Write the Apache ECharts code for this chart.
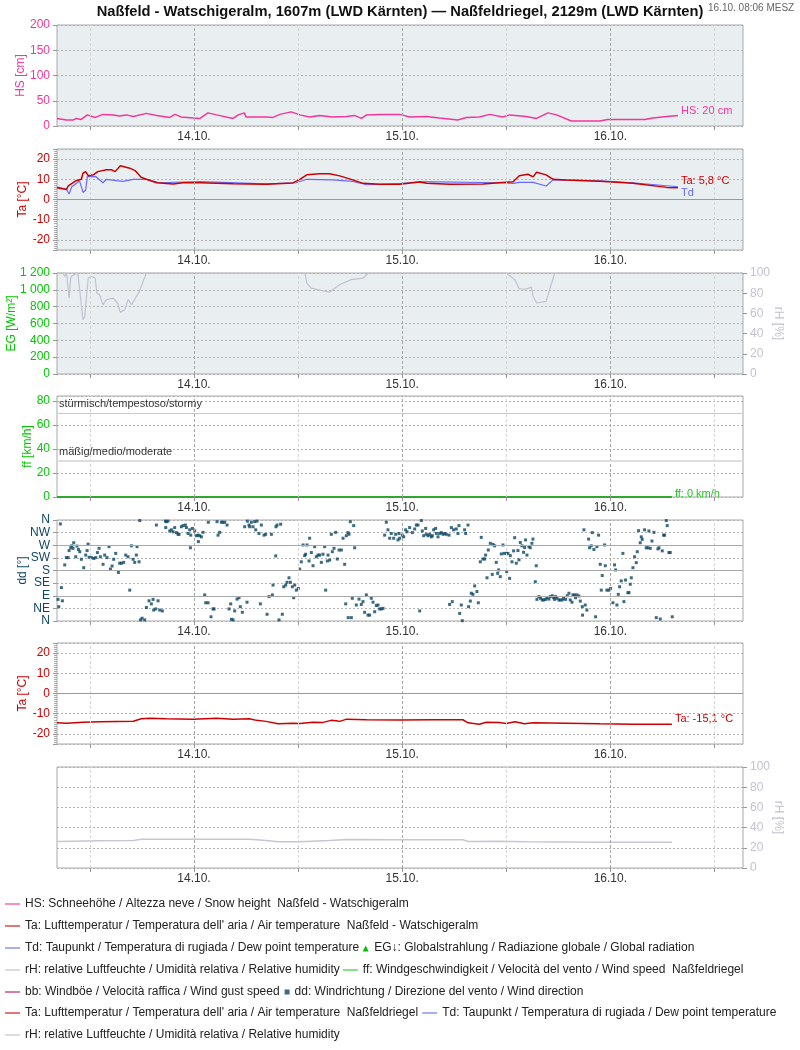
<!DOCTYPE html>
<html><head><meta charset="utf-8">
<script src="https://cdn.jsdelivr.net/npm/echarts@6/dist/echarts.min.js"></script>
<style>html,body{margin:0;padding:0;background:#fff}#c{width:800px;height:1050px}</style>
</head><body><div id="c"></div>
<script>
// ---- time axis (hours relative to 14.10. 00:00) ----
const xMin = -15.8, xMax = 63.3;
const dayTicks = [0, 24, 48];
const dayLabels = ['14.10.', '15.10.', '16.10.'];
const noonTicks = [-12, 12, 36, 60];
const ddLabels = ['N', 'NE', 'E', 'SE', 'S', 'SW', 'W', 'NW', 'N'];

// ---- HS snow height (cm) ----
const hsT = [-15.8,-14.7,-13.9,-13.6,-13.0,-12.3,-11.4,-10.5,-9.3,-8.6,-7.8,-7.0,-5.5,-4.3,-2.8,-2.2,-1.5,-0.1,0.7,1.6,2.6,4.5,5.1,5.8,6.0,7.2,8.3,9.1,9.9,11.2,12.2,13.3,14.5,16.0,17.6,18.5,19.3,19.9,21.4,23.7,24.9,26.8,28.3,30.4,31.4,32.9,34.1,35.6,36.4,38.3,39.5,40.8,41.8,43.5,45.2,46.8,47.7,49.8,52.0,52.9,54.5,55.8];
const hsV = [15,12,12,15,13,22,17,23,22,20,22,19,25,21,17,23,18,16,15,26,22,15,22,26,18,18,18,17,23,28,22,18,21,18,19,21,15,22,23,23,18,19,16,12,17,18,23,18,22,19,15,26,22,10,10,10,13,13,13,16,19,21];

// ---- Ta / Td Naßfeld - Watschigeralm (°C) ----
const taT = [-15.8,-14.7,-14.5,-13.6,-13.0,-12.8,-12.5,-12.2,-11.6,-11.1,-10.1,-9.5,-9.1,-8.5,-7.4,-6.8,-6.1,-5.5,-4.3,-2.4,-1.3,0.7,4.5,8.3,11.4,12.2,13.0,14.5,15.6,16.8,18.3,19.5,21.4,23.7,26.0,26.8,29.5,33.3,35.2,36.8,37.5,38.5,39.1,39.5,40.6,41.4,42.9,46.8,50.6,54.5,55.8];
const taV = [5.8,5.0,6.8,9.3,10,13,13.8,11.8,12.2,13.8,14.7,14.7,13.8,16.7,15.5,14.3,11,10,8.3,7.7,8.3,8.3,7.8,7.5,8.2,10,12.2,12.7,12.8,11.7,9.7,8,7.5,7.5,8.7,8,7.5,7.7,8.3,8.8,11.8,12.5,11.2,13.5,12.2,10,9.7,9,8,6,5.8];
const tdT = [-15.8,-14.7,-14.4,-14.1,-13.2,-12.8,-12.5,-12.3,-11.3,-10.5,-10.1,-8.9,-8.7,-8.2,-7.0,-5.5,-4.0,0.7,8.3,11.8,13.0,16.0,18.3,19.9,23.7,26.0,35.2,36.8,37.5,39.1,40.6,41.4,46.8,50.6,55.8];
const tdV = [6.3,5,2.7,6.3,9.2,3.5,4.6,11.3,11.3,8.3,10,9.3,10.2,9,10,10,8.3,8.8,7.7,8.3,10,9.7,9,7.3,7.9,8.8,8.3,8,8.5,8.5,6.7,9.7,9.2,8.3,6.3];

// ---- rH Naßfeld - Watschigeralm (%) ----
const rhT = [-15.8,-15.1,-14.9,-14.7,-14.4,-14.2,-13.9,-13.4,-13.2,-12.8,-12.6,-12.4,-12.2,-11.8,-11.4,-11.2,-10.9,-10.5,-10.1,-9.3,-8.8,-8.5,-8.0,-7.6,-7.2,-6.3,-5.5,12.0,12.8,13.0,13.5,14.5,15.6,16.8,18.1,19.5,20.1,36.0,37.0,37.5,38.3,38.9,39.1,39.5,40.6,41.0,41.6,55.8];
const rhV = [100,100,96.6,100,75,96.6,98,100,100,53.7,56.9,55,95,96.6,95,80,78.6,68.6,73.6,75,70,61,63.5,73.6,68.6,81.8,100,100,100,90,85,83,81,88.4,93.4,95,100,100,93.4,84.2,84,86,76.9,70.3,71.9,83.5,100,100];

// ---- ff wind speed Naßfeldriegel (km/h) ----
const ffT = [-15.8, 55.1];
const ffV = [0, 0];
const ffLevels = [70, 30];
const ffLevelLabels = ['stürmisch/tempestoso/stormy', 'mäßig/medio/moderate'];

// ---- dd wind direction (°) ----
const ddT = [-15.68,-15.60,-15.41,-15.29,-15.18,-14.91,-14.72,-14.52,-14.41,-14.22,-14.10,-13.95,-13.87,-13.64,-13.49,-13.33,-13.18,-12.99,-12.72,-12.49,-12.33,-12.22,-12.10,-11.83,-11.56,-11.33,-11.14,-10.95,-10.80,-10.49,-10.30,-10.03,-9.80,-9.64,-9.45,-9.26,-9.03,-8.72,-8.57,-8.37,-8.11,-7.88,-7.61,-7.41,-7.22,-7.03,-6.84,-6.65,-6.57,-6.34,-6.26,-6.18,-5.99,-5.69,-5.49,-5.19,-4.92,-4.72,-4.65,-4.42,-4.34,-4.15,-3.96,-3.65,-3.30,-3.26,-3.19,-3.00,-2.80,-2.61,-2.42,-2.23,-2.03,-1.84,-1.73,-1.46,-1.27,-1.00,-0.88,-0.69,-0.50,-0.42,-0.38,-0.19,0.08,0.27,0.46,0.50,0.65,0.85,1.04,1.23,1.35,1.62,1.65,1.96,2.19,2.31,2.65,2.77,2.96,3.15,3.34,3.54,3.81,4.04,4.23,4.31,4.50,4.69,4.96,5.19,5.34,5.57,5.84,6.11,6.15,6.34,6.42,6.61,6.80,6.99,7.11,7.26,7.49,7.65,7.76,8.07,8.26,8.42,8.65,8.92,9.03,9.11,9.42,9.45,9.57,9.80,9.99,10.18,10.34,10.57,10.72,10.95,11.11,11.34,11.49,11.61,11.80,12.03,12.18,12.37,12.57,12.76,12.87,13.03,13.26,13.33,13.53,13.72,13.91,14.10,14.30,14.49,14.68,14.87,15.06,15.18,15.37,15.45,15.64,15.83,15.95,16.14,16.33,16.52,16.72,16.99,17.18,17.37,17.49,17.56,17.75,17.78,17.87,18.02,18.14,18.25,18.41,18.52,18.71,19.02,19.29,19.48,19.67,19.87,20.06,20.25,20.44,20.64,20.83,21.02,21.21,21.40,21.60,21.79,21.98,22.17,22.36,22.56,22.75,23.02,23.25,23.52,23.63,23.71,24.02,24.17,24.40,24.56,24.86,25.17,25.44,25.63,25.82,26.02,26.21,26.32,26.48,26.71,26.78,26.98,27.17,27.36,27.48,27.63,27.86,27.94,28.13,28.32,28.51,28.71,28.90,29.09,29.40,29.47,29.67,29.78,29.93,30.24,30.43,30.55,30.63,30.82,30.93,31.20,31.32,31.59,31.66,31.86,31.97,32.16,32.36,32.62,32.78,33.01,33.12,33.32,33.51,33.62,33.78,33.93,34.16,34.39,34.47,34.66,34.85,35.01,35.12,35.31,35.43,35.62,35.74,36.01,36.05,36.20,36.39,36.47,36.66,36.85,36.97,37.16,37.35,37.47,37.62,37.81,38.00,38.12,38.23,38.39,38.62,38.77,38.96,39.08,39.35,39.46,39.54,39.77,39.96,40.15,40.31,40.54,40.69,40.92,41.08,41.31,41.46,41.58,41.69,41.85,42.08,42.23,42.46,42.61,42.85,43.04,43.23,43.38,43.58,43.69,43.88,43.99,44.15,44.38,44.54,44.77,44.80,44.96,45.11,45.30,45.50,45.61,45.80,45.92,46.11,46.30,46.46,46.65,46.84,46.96,47.07,47.34,47.42,47.61,47.84,48.03,48.30,48.49,48.61,48.76,48.92,49.07,49.26,49.45,49.57,49.76,50.03,50.15,50.30,50.42,50.61,50.80,50.99,51.11,51.26,51.45,51.57,51.68,51.95,52.14,52.34,52.45,52.61,52.80,53.03,53.30,53.49,53.61,53.76,53.99,54.14,54.26,54.45,54.56,54.76,54.91,55.14];
const ddV = [77,51,346,119,72,200,226,226,251,261,268,259,279,229,267,255,247,220,190,235,251,274,227,226,223,226,244,259,229,202,235,226,265,185,196,220,241,173,206,206,209,235,229,110,268,220,209,235,265,211,358,4,10,4,48,72,61,77,39,43,342,72,39,36,356,333,354,356,321,325,318,333,315,309,309,336,340,342,333,312,325,261,306,330,321,304,306,283,304,300,316,93,65,65,352,15,43,43,354,306,316,352,352,352,342,43,61,6,4,36,78,83,51,31,336,67,356,342,336,352,336,354,325,356,312,61,342,306,309,24,87,309,93,128,232,336,342,4,345,24,122,128,138,154,138,122,83,128,110,116,185,211,271,233,238,271,214,295,244,197,265,229,235,235,209,238,265,110,214,235,217,309,247,259,316,221,253,253,295,202,61,304,315,12,309,354,12,81,340,261,57,78,59,69,31,93,21,21,81,67,33,55,57,43,43,45,306,352,325,295,312,295,309,289,312,295,306,300,325,318,333,315,328,342,342,36,358,321,304,330,309,304,309,300,304,325,330,312,300,312,315,309,312,309,306,59,333,69,325,328,312,340,27,57,1,325,312,342,51,71,99,95,125,105,65,211,298,221,221,235,154,253,277,166,273,268,209,170,182,158,239,271,241,241,176,241,152,233,211,250,297,206,251,218,280,268,245,262,289,235,265,261,277,292,140,197,77,87,81,75,75,77,83,78,87,90,83,77,87,81,75,75,75,81,77,90,99,75,67,93,93,83,93,89,71,51,21,325,57,39,292,261,268,315,255,15,265,306,202,110,162,271,197,110,110,116,65,200,182,57,95,122,143,241,69,146,101,101,131,154,190,229,208,247,322,279,300,291,325,261,261,321,259,285,316,12,257,261,7,250,306,306,358,340,244,244,15];

// ---- Ta / rH Naßfeldriegel ----
const ta2T = [-15.8,-14.7,-12.8,-10.9,-8.9,-7.0,-6.1,-5.1,-3.2,-0.1,2.6,4.5,6.4,7.2,8.3,9.7,11.4,12.2,13.7,14.9,15.8,16.4,16.8,17.6,19.9,23.7,27.6,31.0,31.6,32.9,33.7,35.2,36.0,37.0,38.1,39.1,42.9,46.8,50.6,55.1];
const ta2V = [-14.5,-14.7,-14.2,-14,-13.8,-13.7,-12.5,-12.3,-12.5,-12.7,-12.3,-12.8,-12.5,-13.3,-13.8,-15,-14.7,-14.8,-14.2,-14.3,-13.3,-13.5,-13.8,-12.7,-13,-13.1,-13,-13,-14.5,-15.2,-14.2,-14.3,-14.8,-14,-15,-14.5,-14.7,-15,-15.2,-15.2];
const rh2T = [-15.8,-10.9,-7.0,-6.1,0.7,6.4,8.3,9.7,12.2,15.6,17.6,23.7,31.0,31.6,35.2,38.3,46.8,55.1];
const rh2V = [26.2,27,27.3,28.5,28.5,28.5,27.3,25.9,25.9,27.3,28.2,27.9,27.9,26.2,26.6,25.9,25.6,25.6];

// ---- legend ----
const legendText = {
  HS: 'HS: Schneehöhe / Altezza neve / Snow height  Naßfeld - Watschigeralm',
  Ta1: 'Ta: Lufttemperatur / Temperatura dell\' aria / Air temperature  Naßfeld - Watschigeralm',
  Td1: 'Td: Taupunkt / Temperatura di rugiada / Dew point temperature',
  EG: 'EG↓: Globalstrahlung / Radiazione globale / Global radiation',
  rH1: 'rH: relative Luftfeuchte / Umidità relativa / Relative humidity',
  ff: 'ff: Windgeschwindigkeit / Velocità del vento / Wind speed  Naßfeldriegel',
  bb: 'bb: Windböe / Velocità raffica / Wind gust speed',
  dd: 'dd: Windrichtung / Direzione del vento / Wind direction',
  Ta2: 'Ta: Lufttemperatur / Temperatura dell\' aria / Air temperature  Naßfeldriegel',
  Td2: 'Td: Taupunkt / Temperatura di rugiada / Dew point temperature',
  rH2: 'rH: relative Luftfeuchte / Umidità relativa / Relative humidity'
};
const legendRows = [['HS'], ['Ta1'], ['Td1', 'EG'], ['rH1', 'ff'], ['bb', 'dd'], ['Ta2', 'Td2'], ['rH2']];

// ---- styling ----
const FONT = '"Liberation Sans", Arial, Helvetica, sans-serif';
const C = {
  hs: '#f5359a', ta: '#cc0000', td: '#6a6aff', rh: '#c2c2d2', eg: '#00c800', ff: '#2ea82e',
  dd: '#0d4763', grid: '#a9a9a9', bg: '#e9eef1'
};
const legendColor = { HS: '#ff8cc4', Ta1: '#e07878', Td1: '#a8aefc', EG: '#00c000', rH1: '#dcdce2', ff: '#88e088', bb: '#e07aaa', dd: '#0d4763', Ta2: '#e07878', Td2: '#a8aefc', rH2: '#dcdce2' };
const LINE = 'path://M0,0M15,8M0,3H15V5H0Z';
const TRI = 'path://M0,0M15,8M11.5,1.5L14.5,7.5H8.5Z';
const SQR = 'path://M0,0M15,8M10,1.5H15V6.5H10Z';
const legendIcon = { EG: TRI, dd: SQR };

const tops = [25, 149, 273, 396, 520, 643, 767];
const PH = 101;
const bgs = [C.bg, C.bg, C.bg, '#fff', '#fff', '#fff', '#fff'];
const zip = (t, v) => t.map((x, i) => [x, v[i]]);

const grids = tops.map((t, i) => ({ left: 57, right: 57, top: t, height: PH, show: true, borderColor: C.grid, borderWidth: 1, backgroundColor: bgs[i], containLabel: false, outerBoundsMode: 'none' }));

const xAxes = tops.map((t, i) => ({
  type: 'value', gridIndex: i, min: xMin, max: xMax, position: 'bottom',
  axisLine: { show: false, onZero: false }, splitLine: { show: false },
  axisTick: { show: true, customValues: noonTicks.concat(dayTicks), length: 4, lineStyle: { color: '#999' } },
  axisLabel: { customValues: dayTicks, formatter: v => dayLabels[dayTicks.indexOf(Math.round(v))] || '', color: '#333', fontSize: 12, margin: 5, fontFamily: FONT, hideOverlap: false }
}));

const dashed = { show: true, lineStyle: { color: '#b2b2b2', type: [2, 2], width: 1 } };
function yax(o) {
  const col = o.color;
  return Object.assign({
    type: 'value', nameLocation: 'middle', nameMoveOverlap: false,
    nameTextStyle: { color: col, fontSize: 12, fontFamily: FONT },
    axisLine: { show: false, onZero: false },
    axisTick: { show: true, length: 4, lineStyle: { color: '#999' } },
    axisLabel: { color: col, fontSize: 12, margin: 7, fontFamily: FONT },
    splitLine: dashed
  }, o.extra);
}
const yAxes = [
  yax({ color: C.hs, extra: { gridIndex: 0, min: 0, max: 200, interval: 50, name: 'HS [cm]', nameGap: 30 } }),
  yax({ color: C.ta, extra: { gridIndex: 1, min: -25, max: 25, splitNumber: 5, name: 'Ta [°C]', nameGap: 28,
    minorTick: { show: true, splitNumber: 10, length: 3, lineStyle: { color: '#aaa' } } } }),
  yax({ color: C.eg, extra: { gridIndex: 2, min: 0, max: 1200, interval: 200, name: 'EG [W/m²]', nameGap: 39 } }),
  yax({ color: C.rh, extra: { gridIndex: 2, position: 'right', min: 0, max: 100, interval: 20, name: 'rH [%]', nameGap: 29, nameRotate: -90, splitLine: { show: false } } }),
  yax({ color: C.eg, extra: { gridIndex: 3, min: 0, max: 84, interval: 20, name: 'ff [km/h]', nameGap: 23 } }),
  yax({ color: C.dd, extra: { gridIndex: 4, min: 0, max: 360, interval: 45, name: 'dd [°]', nameGap: 28 } }),
  yax({ color: C.ta, extra: { gridIndex: 5, min: -25, max: 25, splitNumber: 5, name: 'Ta [°C]', nameGap: 28,
    minorTick: { show: true, splitNumber: 10, length: 3, lineStyle: { color: '#aaa' } } } }),
  yax({ color: C.rh, extra: { gridIndex: 6, position: 'right', min: 0, max: 100, interval: 20, name: 'rH [%]', nameGap: 29, nameRotate: -90 } })
];
yAxes[1].axisLabel.showMinLabel = false; yAxes[1].axisLabel.showMaxLabel = false;
yAxes[6].axisLabel.showMinLabel = false; yAxes[6].axisLabel.showMaxLabel = false;
yAxes[4].axisLabel.showMaxLabel = false;
yAxes[2].axisLabel.formatter = v => v >= 1000 ? Math.floor(v / 1000) + ' ' + String(v % 1000).padStart(3, '0') : String(v);
yAxes[5].axisLabel.formatter = v => ddLabels[Math.round(v / 45)];

function vLineData() {
  return dayTicks.map(v => ({ xAxis: v, lineStyle: { color: '#a6a6a6', type: [3, 2], width: 1 } }))
    .concat(noonTicks.map(v => ({ xAxis: v, lineStyle: { color: '#d6d6d6', type: [3, 2], width: 1 } })));
}
const yAxisOfGrid = [0, 1, 2, 4, 5, 6, 7];
const helpers = tops.map((t, i) => {
  let extra = [];
  if (i === 1 || i === 5) extra = [{ yAxis: 0, lineStyle: { color: '#999', type: 'solid', width: 1 } }];
  if (i === 4) extra = [90, 180, 270].map(v => ({ yAxis: v, lineStyle: { color: '#aaa', type: 'solid', width: 1 } }));
  if (i === 3) extra = ffLevels.map((v, k) => ({
    yAxis: v,
    lineStyle: { color: k === 0 ? '#cacaca' : '#dedede', type: 'solid', width: k === 0 ? 1 : 2 },
    label: { show: true, position: 'insideStartTop', formatter: ffLevelLabels[k], color: '#333', fontSize: 11, fontFamily: FONT, distance: [2, 3] }
  }));
  return {
    type: 'line', name: 'gridlines' + i, xAxisIndex: i, yAxisIndex: yAxisOfGrid[i], data: [], z: 1, silent: true,
    markLine: { silent: true, symbol: 'none', animation: false, label: { show: false }, data: vLineData().concat(extra) }
  };
});

const lineBase = (name, xi, yi, data, color, width, z) => ({
  type: 'line', name, xAxisIndex: xi, yAxisIndex: yi, data, showSymbol: false, symbol: 'none',
  lineStyle: { color, width }, itemStyle: { color }, z: z || 3, animation: false
});
const endLbl = (text, color, dy) => ({ show: true, formatter: text, color, fontSize: 11, fontFamily: FONT, distance: 3, offset: [0, dy] });

const sHS = lineBase('HS', 0, 0, zip(hsT, hsV), C.hs, 1.5); sHS.endLabel = endLbl('HS: 20 cm', C.hs, -4);
const sTd1 = lineBase('Td1', 1, 1, zip(tdT, tdV), C.td, 1.2, 3); sTd1.endLabel = endLbl('Td', C.td, 6);
const sTa1 = lineBase('Ta1', 1, 1, zip(taT, taV), C.ta, 1.5, 4); sTa1.endLabel = endLbl('Ta: 5,8 °C', C.ta, -7);
const sRh1 = lineBase('rH1', 2, 3, zip(rhT, rhV), C.rh, 1.2);
const sEG = lineBase('EG', 2, 2, [], C.eg, 1.5);
const sFF = lineBase('ff', 3, 4, zip(ffT, ffV), C.ff, 2); sFF.endLabel = endLbl('ff: 0 km/h', '#1fc41f', -3);
const sBB = lineBase('bb', 3, 4, [], '#e07aaa', 1);
const sDD = { type: 'scatter', name: 'dd', xAxisIndex: 4, yAxisIndex: 5, data: zip(ddT, ddV), symbol: 'rect', symbolSize: 3, itemStyle: { color: C.dd }, z: 3, animation: false };
const sTa2 = lineBase('Ta2', 5, 6, zip(ta2T, ta2V), C.ta, 1.5); sTa2.endLabel = endLbl('Ta: -15,1 °C', C.ta, -5);
const sTd2 = lineBase('Td2', 5, 6, [], C.td, 1);
const sRh2 = lineBase('rH2', 6, 7, zip(rh2T, rh2V), '#c6c6d8', 1.5);

const rowCenters = [905, 927, 949, 971, 993, 1014, 1036];
const gaps = [5, 5, -5, 3, -5, 4, 5];
const legends = legendRows.map((row, r) => ({
  show: true, orient: 'horizontal', left: 5, top: rowCenters[r] - 7, padding: 0,
  itemWidth: 15, itemHeight: 8, itemGap: gaps[r], selectedMode: false,
  textStyle: { color: '#222', fontSize: 12, fontFamily: FONT },
  formatter: n => legendText[n],
  data: row.map(k => ({ name: k, icon: legendIcon[k] || LINE, itemStyle: { color: legendColor[k], borderWidth: 0 }, lineStyle: { width: 0 } }))
}));

const option = {
  backgroundColor: '#fff',
  animation: false,
  title: [
    { text: 'Naßfeld - Watschigeralm, 1607m (LWD Kärnten) — Naßfeldriegel, 2129m (LWD Kärnten)', left: 'center', top: 4, padding: 0,
      textStyle: { fontSize: 14.7, fontWeight: 'bold', color: '#111', fontFamily: FONT } },
    { text: '16.10. 08:06 MESZ', left: 708, top: 3, padding: 0, textStyle: { fontSize: 10, fontWeight: 'normal', color: '#666', fontFamily: FONT } }
  ],
  legend: legends,
  grid: grids,
  xAxis: xAxes,
  yAxis: yAxes,
  series: helpers.concat([sHS, sTd1, sTa1, sRh1, sEG, sFF, sBB, sDD, sTa2, sTd2, sRh2])
};
const chart = echarts.init(document.getElementById('c'), null, { renderer: 'canvas', width: 800, height: 1050 });
chart.setOption(option);
</script>
</body></html>
